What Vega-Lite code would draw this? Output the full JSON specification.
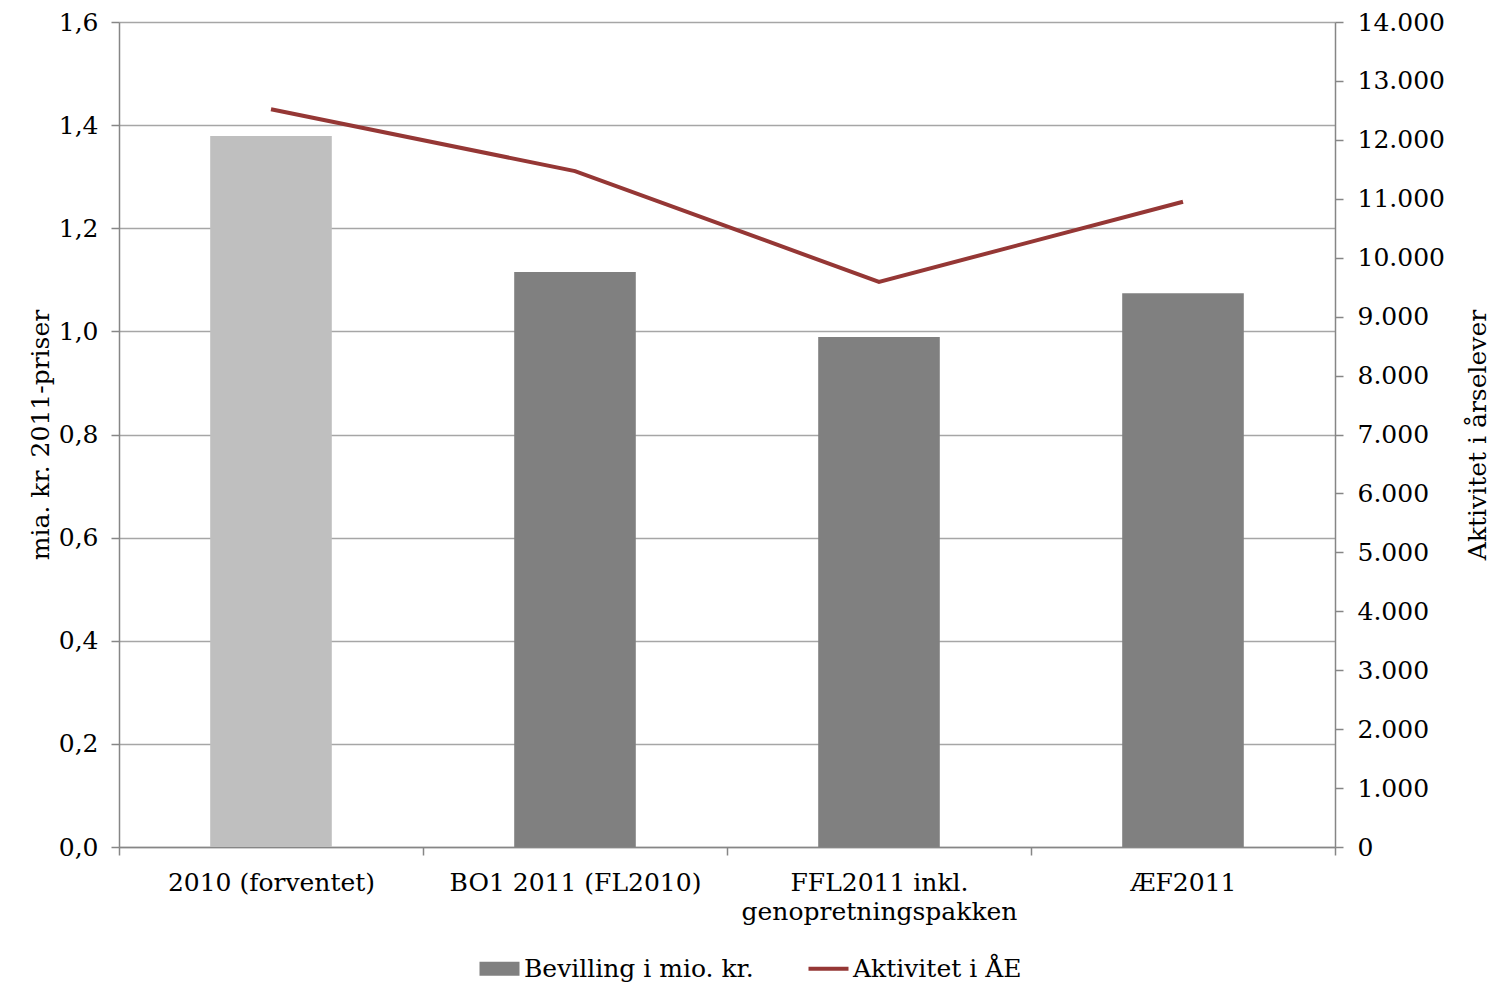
{
  "$schema": "https://vega.github.io/schema/vega-lite/v6.json",
  "width": 1216,
  "height": 825,
  "autosize": {"type": "none"},
  "padding": {"left": 119, "top": 22, "right": 160, "bottom": 137},
  "background": "white",
  "config": {
    "locale": {"number": {"decimal": ",", "thousands": ".", "grouping": [3], "currency": ["", ""]}},
    "font": "DejaVu Serif",
    "view": {"stroke": null},
    "axis": {
      "labelFont": "DejaVu Serif", "labelFontSize": 25, "labelColor": "#000000", "labelLimit": 0,
      "titleFont": "DejaVu Serif", "titleFontSize": 25, "titleFontWeight": "normal", "titleColor": "#000000",
      "domainColor": "#868686", "tickColor": "#868686", "gridColor": "#a6a6a6",
      "domainWidth": 1.5, "tickWidth": 1.5, "gridWidth": 1.5, "tickSize": 8
    },
    "legend": {"labelFont": "DejaVu Serif", "labelFontSize": 25, "labelColor": "#000000", "labelLimit": 0}
  },
  "data": {
    "values": [
      {"kategori": "2010 (forventet)", "bevilling": 1.379, "aktivitet": 12520},
      {"kategori": "BO1 2011 (FL2010)", "bevilling": 1.115, "aktivitet": 11470},
      {"kategori": "FFL2011 inkl. genopretningspakken", "bevilling": 0.989, "aktivitet": 9590},
      {"kategori": "ÆF2011", "bevilling": 1.074, "aktivitet": 10950}
    ]
  },
  "encoding": {
    "x": {
      "field": "kategori", "type": "nominal", "sort": null,
      "scale": {"paddingInner": 0, "paddingOuter": 0},
      "axis": {
        "title": null, "labelAngle": 0, "labelPadding": 15, "labelLineHeight": 29,
        "tickBand": "extent", "grid": false,
        "labelExpr": "datum.label == 'FFL2011 inkl. genopretningspakken' ? ['FFL2011 inkl.', 'genopretningspakken'] : datum.label"
      }
    }
  },
  "layer": [
    {
      "mark": {"type": "bar", "width": {"band": 0.4}},
      "encoding": {
        "y": {
          "field": "bevilling", "type": "quantitative",
          "scale": {"domain": [0, 1.6], "nice": false},
          "axis": {
            "title": "mia. kr. 2011-priser", "values": [0, 0.2, 0.4, 0.6, 0.8, 1.0, 1.2, 1.4, 1.6],
            "format": ".1f", "labelPadding": 13, "titlePadding": 5, "grid": true
          }
        },
        "color": {
          "datum": "Bevilling i mio. kr.",
          "condition": {"test": "datum.kategori === '2010 (forventet)'", "value": "#bfbfbf"},
          "scale": {"domain": ["Bevilling i mio. kr.", "Aktivitet i ÅE"], "range": ["#808080", "#953735"]},
          "legend": {
            "title": null, "orient": "none", "direction": "horizontal",
            "legendX": 368, "legendY": 934, "symbolSize": 1600, "labelOffset": 12, "columnPadding": 46,
            "encode": {
              "symbols": {
                "update": {
                  "shape": {"signal": "datum.label === 'Aktivitet i ÅE' ? 'M-1,0H1' : 'M-1,-0.35H1V0.35H-1Z'"},
                  "fill": {"signal": "datum.label === 'Aktivitet i ÅE' ? 'transparent' : '#808080'"},
                  "stroke": {"signal": "datum.label === 'Aktivitet i ÅE' ? '#953735' : 'transparent'"},
                  "strokeWidth": {"signal": "datum.label === 'Aktivitet i ÅE' ? 4 : 0"},
                  "opacity": {"value": 1}
                }
              }
            }
          }
        }
      }
    },
    {
      "mark": {"type": "line", "strokeWidth": 4},
      "encoding": {
        "y": {
          "field": "aktivitet", "type": "quantitative",
          "scale": {"domain": [0, 14000], "nice": false},
          "axis": {
            "orient": "right", "title": "Aktivitet i årselever",
            "values": [0, 1000, 2000, 3000, 4000, 5000, 6000, 7000, 8000, 9000, 10000, 11000, 12000, 13000, 14000],
            "format": ",d", "grid": false, "labelPadding": 14, "titleAngle": -90, "titlePadding": 46
          }
        },
        "color": {"datum": "Aktivitet i ÅE"}
      }
    }
  ],
  "resolve": {"scale": {"y": "independent"}}
}
